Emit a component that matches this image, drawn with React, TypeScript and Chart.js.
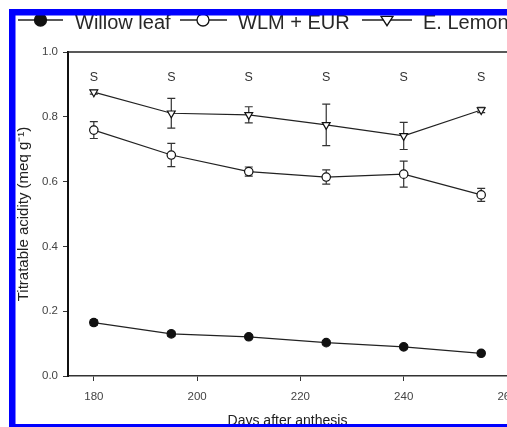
import React, { useEffect, useRef } from "react";
import { Chart, registerables } from "chart.js";

Chart.register(...registerables);

const days = [180, 195, 210, 225, 240, 255];
const willow = [0.165, 0.13, 0.121, 0.103, 0.09, 0.07];
const willowErr = [0.008, 0.008, 0.006, 0.006, 0.006, 0.006];
const wlm = [0.759, 0.682, 0.631, 0.614, 0.623, 0.559];
const wlmErr = [0.026, 0.036, 0.014, 0.022, 0.04, 0.02];
const lemon = [0.876, 0.811, 0.806, 0.775, 0.741, 0.821];
const lemonErr = [0.006, 0.046, 0.025, 0.064, 0.042, 0.008];
const sigLabels = ["S", "S", "S", "S", "S", "S"];
const sigLevel = 0.92;
const seriesNames = ["Willow leaf", "WLM + EUR", "E. Lemon"];
const xTicks = [180, 200, 220, 240, 260];
const yTicks = [0, 0.2, 0.4, 0.6, 0.8, 1.0];
const xTitle = "Days after anthesis";
const yTitle = "Titratable acidity (meq g\u207B\u00B9)";

const FAMILY = "'Liberation Sans', Arial, Helvetica, sans-serif";
const CANVAS_W = 540;
const CANVAS_H = 427;

function drawMarker(ctx: CanvasRenderingContext2D, kind: string, x: number, y: number, r: number) {
  ctx.beginPath();
  if (kind === "tri") {
    ctx.moveTo(x - r, y - r * 0.6);
    ctx.lineTo(x + r, y - r * 0.6);
    ctx.lineTo(x, y + r * 0.95);
    ctx.closePath();
  } else {
    ctx.arc(x, y, r, 0, Math.PI * 2);
  }
  ctx.fillStyle = kind === "filled" ? "#111" : "#fff";
  ctx.fill();
  ctx.strokeStyle = "#111";
  ctx.lineWidth = 1.3;
  ctx.stroke();
}

const decor = {
  id: "decor",
  beforeDatasetsDraw(chart: any) {
    const { ctx, chartArea } = chart;
    const x = chart.scales.x;
    const y = chart.scales.y;
    ctx.save();
    // top frame line
    ctx.strokeStyle = "#222";
    ctx.lineWidth = 1.5;
    ctx.beginPath();
    ctx.moveTo(chartArea.left, chartArea.top);
    ctx.lineTo(chartArea.right + 40, chartArea.top);
    ctx.stroke();
    // error bars
    ctx.strokeStyle = "#333";
    ctx.lineWidth = 1.2;
    const sets: [number[], number[]][] = [
      [willow, willowErr],
      [wlm, wlmErr],
      [lemon, lemonErr],
    ];
    sets.forEach(([vals, errs]) => {
      vals.forEach((v, i) => {
        const px = x.getPixelForValue(days[i]);
        const top = y.getPixelForValue(v + errs[i]);
        const bot = y.getPixelForValue(v - errs[i]);
        ctx.beginPath();
        ctx.moveTo(px, top);
        ctx.lineTo(px, bot);
        ctx.moveTo(px - 4, top);
        ctx.lineTo(px + 4, top);
        ctx.moveTo(px - 4, bot);
        ctx.lineTo(px + 4, bot);
        ctx.stroke();
      });
    });
    // significance labels
    ctx.fillStyle = "#333";
    ctx.font = `12.5px ${FAMILY}`;
    ctx.textAlign = "center";
    ctx.textBaseline = "middle";
    sigLabels.forEach((s, i) => {
      ctx.fillText(s, x.getPixelForValue(days[i]), y.getPixelForValue(sigLevel));
    });
    ctx.restore();
  },
  afterDraw(chart: any) {
    const { ctx } = chart;
    ctx.save();
    // legend
    const items = [
      { name: seriesNames[0], x0: 18, x1: 63, mx: 40.5, tx: 75, kind: "filled" },
      { name: seriesNames[1], x0: 180, x1: 227, mx: 203, tx: 238, kind: "open" },
      { name: seriesNames[2], x0: 362, x1: 412, mx: 387, tx: 423, kind: "tri" },
    ];
    const ly = 20;
    items.forEach((it) => {
      ctx.strokeStyle = "#222";
      ctx.lineWidth = 1.6;
      ctx.beginPath();
      ctx.moveTo(it.x0, ly);
      ctx.lineTo(it.x1, ly);
      ctx.stroke();
      drawMarker(ctx, it.kind, it.mx, ly, 6);
      ctx.fillStyle = "#282828";
      ctx.font = `20px ${FAMILY}`;
      ctx.textAlign = "left";
      ctx.textBaseline = "alphabetic";
      ctx.fillText(it.name, it.tx, 28.5);
    });
    // blue frame
    ctx.fillStyle = "#0000ff";
    ctx.fillRect(9, 9, 6.5, CANVAS_H - 9);
    ctx.fillRect(9, 9, CANVAS_W, 6.5);
    ctx.fillRect(9, 424, CANVAS_W, 3);
    ctx.restore();
  },
};

export default function App() {
  const ref = useRef<HTMLCanvasElement | null>(null);

  useEffect(() => {
    const canvas = ref.current;
    if (!canvas) return;
    const mk = (vals: number[]) => vals.map((v, i) => ({ x: days[i], y: v }));
    const common = {
      borderColor: "#222",
      borderWidth: 1.2,
      pointBorderColor: "#111",
      pointBorderWidth: 1.2,
      showLine: true,
      tension: 0,
    };
    const chart = new Chart(canvas, {
      type: "line",
      data: {
        datasets: [
          {
            ...common,
            label: seriesNames[0],
            data: mk(willow),
            pointStyle: "circle",
            pointRadius: 4.2,
            pointBackgroundColor: "#111",
          },
          {
            ...common,
            label: seriesNames[1],
            data: mk(wlm),
            pointStyle: "circle",
            pointRadius: 4.2,
            pointBackgroundColor: "#fff",
          },
          {
            ...common,
            label: seriesNames[2],
            data: mk(lemon),
            pointStyle: "triangle",
            pointRotation: 180,
            pointRadius: 4.5,
            pointBackgroundColor: "#fff",
          },
        ],
      } as any,
      options: {
        responsive: false,
        animation: false,
        devicePixelRatio: 1,
        layout: { padding: { left: 0, top: 52, right: CANVAS_W - 507, bottom: 0 } },
        plugins: {
          legend: { display: false },
          tooltip: { enabled: false },
          title: { display: false },
        },
        scales: {
          x: {
            type: "linear",
            min: 175,
            max: 260,
            afterBuildTicks: (s: any) => {
              s.ticks = xTicks.map((v) => ({ value: v }));
            },
            afterFit: (s: any) => {
              s.height = CANVAS_H - 376;
            },
            grid: {
              drawOnChartArea: false,
              drawTicks: true,
              tickLength: 5,
              color: "#333",
              lineWidth: 1,
            },
            border: { display: true, color: "#333", width: 1.5 },
            ticks: {
              padding: 9,
              color: "#444",
              font: { size: 11.5, family: FAMILY },
              maxRotation: 0,
              autoSkip: false,
              callback: (v: any) => String(v),
            },
            title: {
              display: true,
              text: xTitle,
              color: "#222",
              font: { size: 14, family: FAMILY },
              padding: { top: 0, bottom: -3 },
            },
          },
          y: {
            type: "linear",
            min: 0,
            max: 1,
            afterBuildTicks: (s: any) => {
              s.ticks = yTicks.map((v) => ({ value: v }));
            },
            afterFit: (s: any) => {
              s.width = 68;
            },
            grid: {
              drawOnChartArea: false,
              drawTicks: true,
              tickLength: 5,
              color: "#333",
              lineWidth: 1,
            },
            border: { display: true, color: "#111", width: 2 },
            ticks: {
              padding: 5,
              color: "#444",
              font: { size: 11.5, family: FAMILY },
              autoSkip: false,
              callback: (v: any) => Number(v).toFixed(1),
            },
            title: {
              display: true,
              text: yTitle,
              color: "#222",
              font: { size: 15, family: FAMILY },
              padding: { top: 15, bottom: 0 },
            },
          },
        },
      } as any,
      plugins: [decor],
    });
    return () => chart.destroy();
  }, []);

  return (
    <div
      style={{
        position: "absolute",
        left: 0,
        top: 0,
        width: 507,
        height: 427,
        overflow: "hidden",
        background: "#fff",
      }}
    >
      <canvas ref={ref} width={CANVAS_W} height={CANVAS_H} style={{ display: "block" }} />
    </div>
  );
}
